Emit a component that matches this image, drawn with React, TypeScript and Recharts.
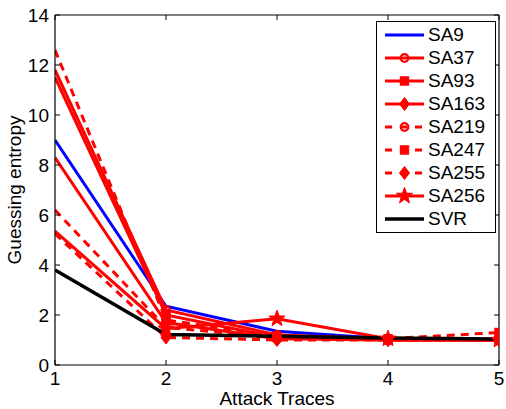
import React from 'react';
import { LineChart, Line, XAxis, YAxis, Legend } from 'recharts';

const attackTraces = [1, 2, 3, 4, 5];
const yTicks = [0, 2, 4, 6, 8, 10, 12, 14];

const sa9 = [9.0, 2.35, 1.35, 1.05, 1.0];
const sa37 = [11.8, 2.2, 1.2, 1.05, 1.0];
const sa93 = [11.5, 2.0, 1.1, 1.0, 1.0];
const sa163 = [8.3, 1.7, 1.05, 1.0, 1.0];
const sa219 = [6.2, 1.5, 1.1, 1.0, 1.0];
const sa247 = [12.6, 1.8, 1.15, 1.05, 1.3];
const sa255 = [5.25, 1.1, 1.0, 1.0, 1.0];
const sa256 = [5.35, 1.45, 1.85, 1.05, 1.0];
const svr = [3.8, 1.22, 1.15, 1.08, 1.04];

type Marker = 'none' | 'circle' | 'square' | 'diamond' | 'star';
interface Series { name: string; values: number[]; color: string; dashed: boolean; marker: Marker; width: number; }

const series: Series[] = [
  { name: 'SA9', values: sa9, color: '#0000ff', dashed: false, marker: 'none', width: 3 },
  { name: 'SA37', values: sa37, color: '#ff0000', dashed: false, marker: 'circle', width: 3 },
  { name: 'SA93', values: sa93, color: '#ff0000', dashed: false, marker: 'square', width: 3 },
  { name: 'SA163', values: sa163, color: '#ff0000', dashed: false, marker: 'diamond', width: 3 },
  { name: 'SA219', values: sa219, color: '#ff0000', dashed: true, marker: 'circle', width: 3 },
  { name: 'SA247', values: sa247, color: '#ff0000', dashed: true, marker: 'square', width: 3 },
  { name: 'SA255', values: sa255, color: '#ff0000', dashed: true, marker: 'diamond', width: 3 },
  { name: 'SA256', values: sa256, color: '#ff0000', dashed: false, marker: 'star', width: 3 },
  { name: 'SVR', values: svr, color: '#000000', dashed: false, marker: 'none', width: 3.5 },
];

const data = attackTraces.map((x, i) => {
  const row: Record<string, number> = { x };
  series.forEach((s) => { row[s.name] = s.values[i]; });
  return row;
});

const FONT = '"Liberation Sans", Arial, Helvetica, sans-serif';
const FS = 19;

function starPoints(cx: number, cy: number, R: number, r: number): string {
  const pts: string[] = [];
  for (let i = 0; i < 10; i++) {
    const rad = i % 2 === 0 ? R : r;
    const a = -Math.PI / 2 + (i * Math.PI) / 5;
    pts.push(`${cx + rad * Math.cos(a)},${cy + rad * Math.sin(a)}`);
  }
  return pts.join(' ');
}

function MarkerShape({ marker, cx, cy, color }: { marker: Marker; cx: number; cy: number; color: string }) {
  switch (marker) {
    case 'circle':
      return <circle cx={cx} cy={cy} r={3.8} fill="none" stroke={color} strokeWidth={2.2} />;
    case 'square':
      return <rect x={cx - 4.2} y={cy - 4.2} width={8.4} height={8.4} fill={color} stroke={color} strokeWidth={1} />;
    case 'diamond':
      return <polygon points={`${cx},${cy - 6.5} ${cx + 5},${cy} ${cx},${cy + 6.5} ${cx - 5},${cy}`} fill={color} stroke={color} strokeWidth={1} />;
    case 'star':
      return <polygon points={starPoints(cx, cy, 8.5, 3.5)} fill={color} stroke={color} strokeWidth={1} />;
    default:
      return null;
  }
}

function makeDot(s: Series) {
  return (props: any) => {
    const { cx, cy, index } = props;
    if (s.marker === 'none' || index === 0 || cx == null || cy == null) {
      return <g key={`${s.name}-${index}`} />;
    }
    return (
      <g key={`${s.name}-${index}`}>
        <MarkerShape marker={s.marker} cx={cx} cy={cy} color={s.color} />
      </g>
    );
  };
}

function LegendBox() {
  return (
    <div
      style={{
        width: 118,
        height: 208,
        border: '1.5px solid #000',
        background: '#fff',
        boxSizing: 'content-box',
        paddingTop: 2,
      }}
    >
      {series.map((s) => (
        <div key={s.name} style={{ display: 'flex', alignItems: 'center', height: 22.9 }}>
          <svg width={50} height={22} style={{ display: 'block', flex: 'none' }}>
            <line
              x1={8}
              x2={47}
              y1={11}
              y2={11}
              stroke={s.color}
              strokeWidth={s.width}
              strokeDasharray={s.dashed ? '7 8' : undefined}
            />
            <MarkerShape marker={s.marker} cx={27.5} cy={11} color={s.color} />
          </svg>
          <span style={{ fontFamily: FONT, fontSize: FS, color: '#000', marginLeft: 1, lineHeight: '22px', whiteSpace: 'nowrap' }}>{s.name}</span>
        </div>
      ))}
    </div>
  );
}

const XLabel = (props: any) => {
  const vb = props.viewBox;
  return (
    <text x={vb.x + vb.width / 2} y={405} textAnchor="middle" fontFamily={FONT} fontSize={FS} fill="#000">
      Attack Traces
    </text>
  );
};

const YLabel = (props: any) => {
  const vb = props.viewBox;
  const cy = 190;
  return (
    <text x={21} y={cy} transform={`rotate(-90, 21, ${cy})`} textAnchor="middle" fontFamily={FONT} fontSize={FS} fill="#000">
      Guessing entropy
    </text>
  );
};

const EmptyTick = () => <g />;

export default function App() {
  return (
    <div style={{ position: 'absolute', left: 0, top: 0, width: 506, height: 409, background: '#fff' }}>
      <LineChart width={506} height={409} data={data} margin={{ top: 14, right: 6, bottom: 0, left: 0 }}>
        <XAxis
          dataKey="x"
          type="number"
          domain={[1, 5]}
          ticks={attackTraces}
          height={44}
          tickSize={-5}
          tickMargin={12}
          stroke="#000"
          axisLine={{ stroke: '#000', strokeWidth: 1.2 }}
          tickLine={{ stroke: '#000' }}
          tick={{ fill: '#000', fontSize: FS, fontFamily: FONT }}
          label={<XLabel />}
          allowDataOverflow
        />
        <XAxis
          xAxisId="top"
          orientation="top"
          dataKey="x"
          type="number"
          domain={[1, 5]}
          ticks={attackTraces}
          height={1}
          tickSize={-5}
          tick={<EmptyTick />}
          stroke="#000"
          axisLine={{ stroke: '#000', strokeWidth: 1.2 }}
          tickLine={{ stroke: '#000' }}
          allowDataOverflow
        />
        <YAxis
          type="number"
          domain={[0, 14]}
          ticks={yTicks}
          width={55}
          tickSize={-5}
          tickMargin={11}
          stroke="#000"
          axisLine={{ stroke: '#000', strokeWidth: 1.2 }}
          tickLine={{ stroke: '#000' }}
          tick={{ fill: '#000', fontSize: FS, fontFamily: FONT }}
          label={<YLabel />}
          allowDataOverflow
        />
        <YAxis
          yAxisId="right"
          orientation="right"
          type="number"
          domain={[0, 14]}
          ticks={yTicks}
          width={1}
          tickSize={-5}
          tick={<EmptyTick />}
          stroke="#000"
          axisLine={{ stroke: '#000', strokeWidth: 1.2 }}
          tickLine={{ stroke: '#000' }}
          allowDataOverflow
        />
        {series.map((s) => (
          <Line
            key={s.name}
            dataKey={s.name}
            type="linear"
            stroke={s.color}
            strokeWidth={s.width}
            strokeDasharray={s.dashed ? '8 6' : undefined}
            dot={makeDot(s)}
            activeDot={false}
            isAnimationActive={false}
          />
        ))}
        <Line dataKey="SVR" xAxisId="top" yAxisId="right" stroke="none" strokeWidth={0} dot={false} activeDot={false} legendType="none" isAnimationActive={false} />
        <Legend
          layout="horizontal"
          verticalAlign="middle"
          align="center"
          wrapperStyle={{ position: 'absolute', left: 376, top: 21, width: 121, height: 212 }}
          content={() => <LegendBox />}
        />
      </LineChart>
    </div>
  );
}
